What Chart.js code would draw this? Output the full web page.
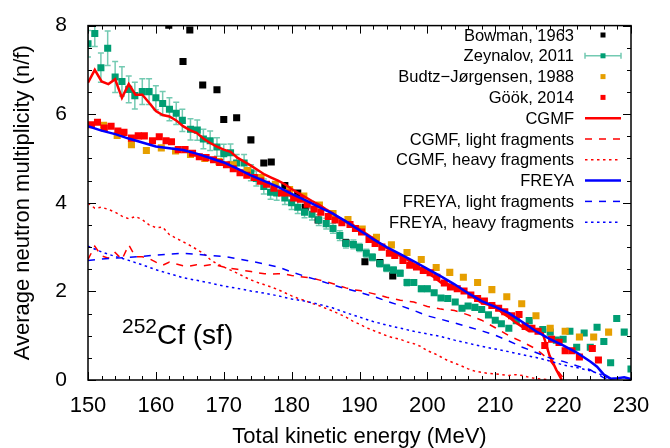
<!DOCTYPE html>
<html>
<head>
<meta charset="utf-8">
<script src="https://cdn.jsdelivr.net/npm/chart.js@4.4.0/dist/chart.umd.min.js"></script>
<style>
  html, body { margin: 0; padding: 0; background: #fff; }
</style>
</head>
<body>
<canvas id="myChart" width="670" height="448"></canvas>
<script>
// axis ticks
const xTicks = [150, 160, 170, 180, 190, 200, 210, 220, 230];
const yTicks = [0, 2, 4, 6, 8];

// Bowman, 1963
const bowmanTke = [161.9, 164.0, 165.0, 166.9, 169.0, 170.0, 171.9, 174.0, 175.9, 177.0, 179.0, 180.9, 182.0, 183.9, 188.0, 190.8, 193.0, 194.9];
const bowmanNu = [8.01, 7.19, 7.90, 6.66, 6.55, 5.88, 5.92, 5.42, 4.90, 4.92, 4.39, 4.22, 3.90, 3.61, 3.10, 2.67, 2.65, 2.35];

// Zeynalov, 2011 (with errors)
const zeynalovTke = [150.0, 151.0, 151.9, 152.9, 154.0, 155.0, 156.0, 156.9, 158.0, 159.0,
  160.0, 161.0, 162.0, 163.0, 163.9, 165.1, 166.1, 167.0, 168.0, 169.0,
  170.0, 171.0, 171.9, 173.0, 174.0, 174.8, 175.9, 176.9, 177.8, 179.0,
  180.0, 180.9, 181.9, 183.0, 184.0, 185.1, 186.1, 187.1, 188.0, 189.1,
  190.0, 191.0, 191.9, 193.0, 194.0, 195.0, 196.0, 197.0, 198.0, 199.1,
  200.0, 201.0, 202.0, 203.0, 204.1, 205.1, 206.0, 207.0, 208.0, 209.0,
  210.0, 210.9, 212.0, 213.1, 215.0, 217.0, 218.1, 219.0, 220.0, 221.0,
  222.0, 223.1, 224.0, 225.0, 226.0, 227.0, 227.9, 229.0, 230.0];
const zeynalovNu = [7.59, 7.82, 7.05, 7.49, 6.84, 6.74, 6.56, 6.42, 6.51, 6.51,
  6.37, 6.24, 6.11, 6.02, 5.86, 5.66, 5.64, 5.44, 5.40, 5.26,
  5.11, 5.13, 4.90, 4.90, 4.68, 4.55, 4.37, 4.24, 4.22, 4.11,
  4.00, 3.90, 3.79, 3.74, 3.61, 3.53, 3.42, 3.26, 3.08, 3.06,
  2.99, 2.86, 2.77, 2.63, 2.53, 2.48, 2.41, 2.20, 2.20, 2.06,
  2.06, 1.97, 1.85, 1.84, 1.76, 1.62, 1.67, 1.64, 1.59, 1.47,
  1.35, 1.27, 1.17, 1.34, 1.34, 1.14, 1.08, 0.90, 0.92, 1.10,
  0.74, 1.06, 0.74, 1.19, 0.87, 0.39, 1.39, 1.08, 0.25];
const zeynalovErr = [0.30, 0.29, 0.33, 0.39, 0.35, 0.33, 0.30, 0.30, 0.29, 0.29,
  0.27, 0.27, 0.26, 0.25, 0.25, 0.24, 0.23, 0.22, 0.22, 0.21,
  0.21, 0.20, 0.19, 0.19, 0.18, 0.17, 0.17, 0.16, 0.16, 0.15,
  0.15, 0.14, 0.13, 0.13, 0.12, 0.12, 0.11, 0.11, 0.10, 0.10,
  0.09, 0.09, 0.08, 0.08, 0.08, 0.07, 0.07, 0.07, 0.06, 0.06,
  0.06, 0.05, 0.05, 0.05, 0.05, 0.05, 0.05, 0.04, 0.04, 0.04,
  0.04, 0.04, 0.04, 0.04, 0.04, 0.04, 0.04, 0.04, 0.04, 0.04,
  0.04, 0.04, 0.04, 0.04, 0.04, 0.04, 0.04, 0.04, 0.04];

// Budtz-Jorgensen, 1988
const budtzTke = [152.3, 154.3, 156.4, 158.6, 160.8, 162.9, 165.1, 167.2, 169.3, 171.4,
  173.5, 175.5, 177.6, 179.7, 181.8, 184.1, 186.1, 188.3, 190.4, 192.5,
  194.7, 197.0, 199.1, 201.3, 203.3, 205.3, 207.4, 209.5, 211.7, 213.9,
  216.0, 218.1, 220.3, 222.4, 224.5, 226.7];
const budtzNu = [5.75, 5.52, 5.31, 5.18, 5.24, 5.17, 5.09, 5.00, 4.93, 4.86,
  4.73, 4.57, 4.42, 4.30, 4.15, 3.95, 3.76, 3.62, 3.41, 3.22,
  3.05, 2.88, 2.72, 2.54, 2.43, 2.32, 2.20, 2.04, 1.88, 1.72,
  1.45, 1.17, 1.10, 0.97, 0.97, 1.08];

// Gook, 2014
const gookTke = [150.5, 151.4, 152.4, 153.4, 154.4, 155.3, 156.4, 157.4, 158.3, 159.5,
  160.5, 161.5, 162.3, 163.3, 164.3, 165.4, 166.4, 167.4, 168.5, 169.4,
  170.4, 171.4, 172.4, 173.4, 174.5, 175.4, 176.3, 177.4, 178.5, 179.4,
  180.3, 181.3, 182.3, 183.3, 184.3, 185.4, 186.4, 187.4, 188.6, 189.4,
  190.3, 191.4, 192.3, 193.3, 194.4, 195.2, 196.4, 197.4, 198.4, 199.4,
  200.4, 201.4, 202.5, 203.4, 204.4, 205.4, 206.4, 207.4, 208.4, 209.5,
  210.5, 211.4, 212.4, 213.5, 214.4, 215.4, 216.3, 217.3, 218.3, 219.4,
  220.3, 221.3, 222.4, 224.3, 225.2];
const gookNu = [5.76, 5.82, 5.69, 5.73, 5.62, 5.59, 5.46, 5.51, 5.51, 5.40,
  5.49, 5.40, 5.38, 5.20, 5.20, 5.12, 5.04, 5.02, 4.97, 4.91,
  4.86, 4.77, 4.68, 4.62, 4.57, 4.49, 4.42, 4.33, 4.22, 4.22,
  4.11, 4.08, 3.97, 3.86, 3.79, 3.69, 3.61, 3.55, 3.51, 3.42,
  3.34, 3.17, 3.08, 3.00, 2.86, 2.81, 2.70, 2.59, 2.55, 2.47,
  2.42, 2.32, 2.19, 2.10, 2.06, 2.01, 1.92, 1.84, 1.78, 1.68,
  1.62, 1.54, 1.45, 1.48, 1.21, 1.17, 1.10, 0.78, 0.92, 0.85,
  0.66, 0.66, 0.52, 0.71, 0.45];

// CGMF total
const cgmfTke = [150, 151, 152, 153, 154, 155, 156, 157, 158, 159,
  160, 161, 162, 163, 164, 165, 166, 167, 168, 169,
  170, 171, 172, 173, 174, 175, 176, 177, 178, 179,
  180, 181, 182, 183, 184, 185, 186, 187, 188, 189,
  190, 191, 192, 193, 194, 195, 196, 197, 198, 199,
  200, 201, 202, 203, 204, 205, 206, 207, 208, 209,
  210, 211, 212, 213, 214, 215, 216, 217, 218, 219, 219.8];
const cgmfNu = [6.71, 7.00, 6.74, 6.68, 6.79, 6.37, 6.68, 6.44, 6.44, 6.26,
  6.07, 5.98, 5.95, 5.86, 5.73, 5.64, 5.58, 5.45, 5.35, 5.27,
  5.20, 5.15, 5.02, 4.93, 4.84, 4.74, 4.64, 4.57, 4.50, 4.42,
  4.31, 4.22, 4.13, 4.04, 3.96, 3.86, 3.77, 3.66, 3.57, 3.50,
  3.40, 3.30, 3.20, 3.08, 2.98, 2.88, 2.80, 2.72, 2.62, 2.52,
  2.42, 2.32, 2.20, 2.16, 2.10, 2.04, 1.96, 1.84, 1.74, 1.70,
  1.68, 1.52, 1.42, 1.30, 1.20, 1.10, 1.10, 1.05, 0.55, 0.23, 0.00];

// CGMF light fragments
const cgmfLightTke = [150, 151, 152, 153, 154, 155, 156, 157, 158, 159,
  160, 161, 162, 163, 164, 165, 166, 167, 168, 169,
  170, 171, 172, 173, 174, 175, 176, 177, 178, 179,
  180, 181, 182, 183, 184, 185, 186, 187, 188, 189, 190,
  192, 194, 196, 198, 200, 202, 204, 206, 208, 210, 212, 214, 216, 218, 220];
const cgmfLightNu = [2.72, 3.02, 2.80, 2.75, 2.88, 2.72, 3.05, 2.78, 2.78, 2.74,
  2.66, 2.59, 2.66, 2.62, 2.58, 2.57, 2.60, 2.58, 2.60, 2.59,
  2.55, 2.52, 2.50, 2.47, 2.45, 2.42, 2.40, 2.39, 2.40, 2.39,
  2.36, 2.34, 2.32, 2.30, 2.26, 2.22, 2.18, 2.13, 2.08, 2.04, 2.02,
  1.95, 1.87, 1.80, 1.76, 1.66, 1.60, 1.57, 1.47, 1.35, 1.18, 1.00, 0.86, 0.70, 0.45, 0.05];

// CGMF heavy fragments
const cgmfHeavyTke = [150, 151, 152, 153, 154, 155, 156, 157, 158, 159,
  160, 161, 162, 163, 164, 165, 166, 167, 168, 169,
  170, 171, 172, 173, 174, 175, 176, 177, 178, 179,
  180, 181, 182, 183, 184, 185, 186, 187, 188, 189,
  190, 191, 192, 193, 194, 195, 196, 197, 198, 199,
  200, 201, 202, 203, 204, 205, 206, 207, 208, 209,
  210, 211, 212, 213, 214, 215, 216, 217, 218];
const cgmfHeavyNu = [3.99, 3.88, 3.90, 3.85, 3.79, 3.70, 3.64, 3.69, 3.62, 3.50,
  3.44, 3.45, 3.28, 3.20, 3.12, 3.04, 2.95, 2.86, 2.72, 2.62,
  2.55, 2.48, 2.41, 2.33, 2.26, 2.20, 2.15, 2.10, 2.04, 1.97,
  1.90, 1.84, 1.79, 1.73, 1.68, 1.62, 1.56, 1.49, 1.42, 1.33,
  1.26, 1.18, 1.12, 1.06, 1.00, 0.95, 0.92, 0.86, 0.82, 0.76,
  0.66, 0.60, 0.52, 0.44, 0.38, 0.32, 0.25, 0.20, 0.17, 0.15,
  0.14, 0.12, 0.10, 0.12, 0.10, 0.06, 0.03, 0.02, 0.00];

// FREYA total
const freyaTke = [150, 152, 154, 156, 158, 160, 162, 164, 166, 168,
  170, 172, 174, 176, 178, 180, 182, 184, 186, 188,
  190, 192, 194, 196, 198, 200, 202, 204, 206, 208,
  210, 212, 214, 216, 218, 220, 222, 224,
  225, 226, 227, 228, 229, 230];
const freyaNu = [5.73, 5.63, 5.55, 5.45, 5.36, 5.27, 5.23, 5.19, 5.11, 5.01,
  4.91, 4.77, 4.62, 4.49, 4.36, 4.20, 4.06, 3.91, 3.76, 3.58,
  3.38, 3.18, 3.00, 2.84, 2.68, 2.51, 2.34, 2.16, 1.96, 1.78,
  1.65, 1.51, 1.31, 1.10, 0.93, 0.78, 0.62, 0.42,
  0.30, 0.12, 0.03, 0.04, 0.06, 0.02];

// FREYA light / heavy fragments
const freyaFragTke = [150, 152, 154, 156, 158, 160, 162, 164, 166, 168,
  170, 172, 174, 176, 178, 180, 182, 184, 186, 188,
  190, 192, 194, 196, 198, 200, 202, 204, 206, 208,
  210, 212, 214, 216, 218, 220, 222, 224, 226, 227];
const freyaLightNu = [2.70, 2.73, 2.75, 2.77, 2.79, 2.82, 2.84, 2.86, 2.84, 2.81,
  2.79, 2.74, 2.68, 2.62, 2.55, 2.44, 2.34, 2.25, 2.15, 2.06,
  1.98, 1.89, 1.78, 1.68, 1.57, 1.45, 1.37, 1.29, 1.20, 1.11,
  1.01, 0.88, 0.74, 0.62, 0.50, 0.42, 0.32, 0.23, 0.05, 0.01];
const freyaHeavyNu = [3.02, 2.89, 2.79, 2.70, 2.60, 2.49, 2.40, 2.31, 2.25, 2.19,
  2.12, 2.07, 2.01, 1.96, 1.90, 1.83, 1.78, 1.71, 1.63, 1.52,
  1.42, 1.32, 1.24, 1.17, 1.10, 1.04, 0.98, 0.90, 0.83, 0.76,
  0.70, 0.64, 0.57, 0.51, 0.43, 0.34, 0.28, 0.21, 0.10, 0.03];

const pts = (xs, ys) => xs.map((x, i) => ({ x: x, y: ys[i] }));

const FONT = '"Liberation Sans", Arial, Helvetica, sans-serif';
Chart.defaults.font.family = FONT;
Chart.defaults.color = '#000';

function marks(label, data, color, order) {
  return { label: label, data: data, showLine: false, pointStyle: 'rect', pointRadius: 5,
    pointHoverRadius: 5, backgroundColor: color, borderColor: color, borderWidth: 0, order: order };
}
function curve(label, data, color, dash, width, order) {
  return { label: label, data: data, showLine: true, borderColor: color, backgroundColor: color,
    borderWidth: width, borderDash: dash, pointRadius: 0, tension: 0, fill: false, order: order };
}

const datasets = [
  marks('Bowman, 1963', pts(bowmanTke, bowmanNu), '#000000', 10),
  marks('Zeynalov, 2011', pts(zeynalovTke, zeynalovNu), '#009e73', 9),
  marks('Budtz\u2212J\u00f8rgensen, 1988', pts(budtzTke, budtzNu), '#e69f00', 8),
  marks('G\u00f6\u00f6k, 2014', pts(gookTke, gookNu), '#ff0000', 7),
  curve('CGMF', pts(cgmfTke, cgmfNu), '#ff0000', [], 2.5, 6),
  curve('CGMF, light fragments', pts(cgmfLightTke, cgmfLightNu), '#ff0000', [7, 7], 1.5, 5),
  curve('CGMF, heavy fragments', pts(cgmfHeavyTke, cgmfHeavyNu), '#ff0000', [2.5, 3.5], 1.5, 4),
  curve('FREYA', pts(freyaTke, freyaNu), '#0000ff', [], 2.5, 3),
  curve('FREYA, light fragments', pts(freyaFragTke, freyaLightNu), '#0000ff', [7, 7], 1.5, 2),
  curve('FREYA, heavy fragments', pts(freyaFragTke, freyaHeavyNu), '#0000ff', [2.5, 3.5], 1.5, 1)
];
datasets[1].errorBars = zeynalovErr;

// gnuplot-like frame: error bars, inward ticks, key and label
const gnuplotFrame = {
  id: 'gnuplotFrame',
  beforeDatasetsDraw(chart) {
    const ctx = chart.ctx, xs = chart.scales.x, ys = chart.scales.y, a = chart.chartArea;
    ctx.save();
    ctx.beginPath();
    ctx.rect(a.left, a.top, a.right - a.left, a.bottom - a.top);
    ctx.clip();
    ctx.strokeStyle = 'rgba(0,158,115,0.55)';
    ctx.lineWidth = 1.5;
    zeynalovTke.forEach((t, i) => {
      const px = xs.getPixelForValue(t);
      const hi = ys.getPixelForValue(zeynalovNu[i] + zeynalovErr[i]);
      const lo = ys.getPixelForValue(zeynalovNu[i] - zeynalovErr[i]);
      ctx.beginPath();
      ctx.moveTo(px, hi); ctx.lineTo(px, lo);
      ctx.moveTo(px - 3, hi); ctx.lineTo(px + 3, hi);
      ctx.moveTo(px - 3, lo); ctx.lineTo(px + 3, lo);
      ctx.stroke();
    });
    ctx.restore();
  },
  afterDraw(chart) {
    const ctx = chart.ctx, xs = chart.scales.x, ys = chart.scales.y, a = chart.chartArea;
    ctx.save();
    ctx.strokeStyle = '#000';
    ctx.lineWidth = 1.5;
    ctx.strokeRect(a.left, a.top, a.right - a.left, a.bottom - a.top);

    ctx.lineWidth = 1;
    ctx.beginPath();
    for (let v = xs.min; v <= xs.max; v += 2) {
      const px = Math.round(xs.getPixelForValue(v)) + 0.5;
      const len = v % 10 === 0 ? 8 : 4;
      ctx.moveTo(px, a.bottom); ctx.lineTo(px, a.bottom - len);
      ctx.moveTo(px, a.top); ctx.lineTo(px, a.top + len);
    }
    for (let v = ys.min; v <= ys.max; v += 0.5) {
      const py = Math.round(ys.getPixelForValue(v)) + 0.5;
      const len = v % 2 === 0 ? 8 : 4;
      ctx.moveTo(a.left, py); ctx.lineTo(a.left + len, py);
      ctx.moveTo(a.right, py); ctx.lineTo(a.right - len, py);
    }
    ctx.stroke();

    // key
    const textRight = 574, sampleL = 585, sampleR = 621, firstRow = 35, rowGap = 20.8;
    ctx.font = '16.5px ' + FONT;
    ctx.textAlign = 'right';
    ctx.textBaseline = 'middle';
    chart.data.datasets.forEach((ds, i) => {
      const y = firstRow + i * rowGap;
      ctx.fillStyle = '#000';
      ctx.fillText(ds.label, textRight, y + 1);
      const cx = (sampleL + sampleR) / 2;
      if (ds.showLine) {
        ctx.strokeStyle = ds.borderColor;
        ctx.lineWidth = ds.borderWidth;
        ctx.setLineDash(ds.borderDash);
        ctx.beginPath();
        ctx.moveTo(sampleL, y); ctx.lineTo(sampleR, y);
        ctx.stroke();
        ctx.setLineDash([]);
      } else {
        if (ds.errorBars) {
          ctx.strokeStyle = 'rgba(0,158,115,0.55)';
          ctx.lineWidth = 1.5;
          ctx.beginPath();
          ctx.moveTo(sampleL, y); ctx.lineTo(sampleR, y);
          ctx.moveTo(sampleL, y - 3); ctx.lineTo(sampleL, y + 3);
          ctx.moveTo(sampleR, y - 3); ctx.lineTo(sampleR, y + 3);
          ctx.stroke();
        }
        ctx.fillStyle = ds.backgroundColor;
        ctx.fillRect(cx - 2.5, y - 2.5, 5, 5);
      }
    });

    // 252Cf (sf)
    ctx.fillStyle = '#000';
    ctx.textAlign = 'left';
    ctx.textBaseline = 'alphabetic';
    ctx.font = '21px ' + FONT;
    ctx.fillText('252', 122, 333);
    ctx.font = '28px ' + FONT;
    ctx.fillText('Cf (sf)', 157, 344);
    ctx.restore();
  }
};

new Chart(document.getElementById('myChart'), {
  type: 'scatter',
  data: { datasets: datasets },
  options: {
    responsive: false,
    devicePixelRatio: 1,
    animation: false,
    events: [],
    layout: { padding: { top: 13, right: 39, left: 0, bottom: 0 } },
    plugins: { legend: { display: false }, tooltip: { enabled: false } },
    scales: {
      x: {
        type: 'linear', min: 150, max: 230,
        afterBuildTicks: s => { s.ticks = xTicks.map(v => ({ value: v })); },
        ticks: { font: { size: 22 }, padding: 5, maxRotation: 0, autoSkip: false, color: '#000' },
        grid: { display: false },
        border: { display: false },
        title: { display: true, text: 'Total kinetic energy (MeV)', color: '#000',
          font: { size: 22, lineHeight: 1 }, padding: { top: 0, bottom: 0 } },
        afterFit: s => { s.height = 68; }
      },
      y: {
        type: 'linear', min: 0, max: 8,
        afterBuildTicks: s => { s.ticks = yTicks.map(v => ({ value: v })); },
        ticks: { font: { size: 21 }, padding: 13, color: '#000' },
        grid: { display: false },
        border: { display: false },
        title: { display: true, text: 'Average neutron multiplicity (n/f)', color: '#000',
          font: { size: 22, lineHeight: 1 }, padding: { top: 12, bottom: 0 } },
        afterFit: s => { s.width = 88; }
      }
    }
  },
  plugins: [gnuplotFrame]
});
</script>
</body>
</html>
